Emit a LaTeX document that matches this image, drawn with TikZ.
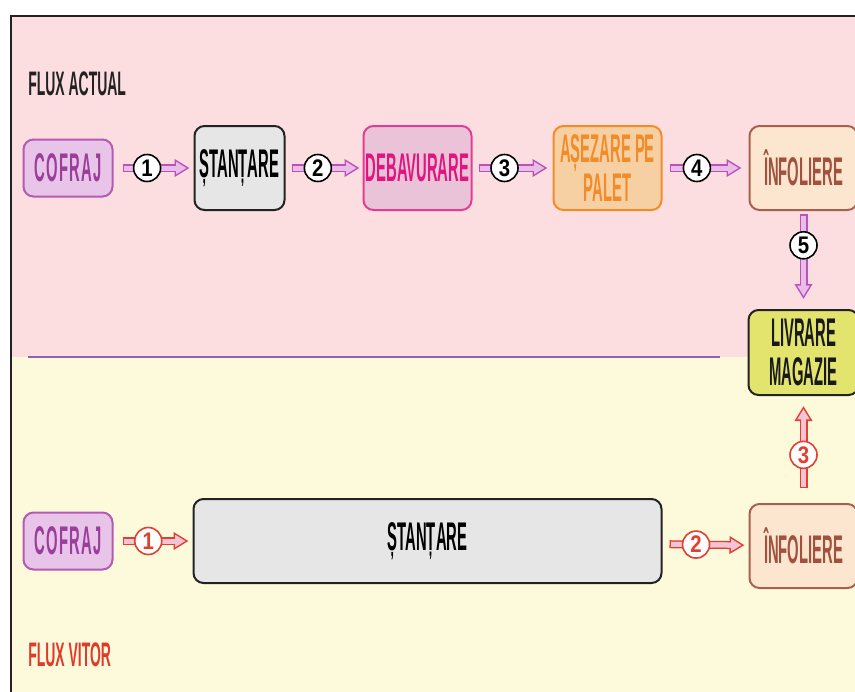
\documentclass[tikz,border=0pt]{standalone}
\usepackage{fontspec}
\usetikzlibrary{arrows.meta, positioning}
\newfontfamily\condfont{Liberation Sans}[FakeStretch=0.37]
\newfontfamily\spacedfont{Liberation Sans}[FakeStretch=0.37, LetterSpace=3]
\newfontfamily\fluxfont{Liberation Sans}[FakeStretch=0.41]
\newfontfamily\numfont{Liberation Sans}[FakeStretch=0.85]
\definecolor{bgpink}{HTML}{FDDEE0}
\definecolor{bgyellow}{HTML}{FDFADC}
\definecolor{framegray}{HTML}{222222}
\definecolor{divider}{HTML}{8A64B0}
\definecolor{arrowline}{HTML}{BE50BE}
\definecolor{arrowfill}{HTML}{E8BEE6}
\definecolor{redline}{HTML}{E2402E}
\definecolor{redfill}{HTML}{F2C4D6}
\definecolor{rawfill}{HTML}{E8C4E8}
\definecolor{rawline}{HTML}{B45AB4}
\definecolor{rawtext}{HTML}{9B3D9B}
\definecolor{pressfill}{HTML}{E6E6E6}
\definecolor{burrfill}{HTML}{EBC3D9}
\definecolor{burrline}{HTML}{E33C96}
\definecolor{burrtext}{HTML}{E0157F}
\definecolor{palletfill}{HTML}{F6CFA2}
\definecolor{palletline}{HTML}{F28C28}
\definecolor{wrapfill}{HTML}{FDE6CF}
\definecolor{wrapline}{HTML}{A8604E}
\definecolor{wraptext}{HTML}{A2513F}
\definecolor{shipfill}{HTML}{E2E46E}
\definecolor{fluxred}{HTML}{E03A2A}

\begin{document}
\begin{tikzpicture}[
        x=0.5pt, y=-0.5pt,
        box/.style = {rectangle, rounded corners=5pt, line width=1pt, align=center, inner sep=1pt, font=\condfont\bfseries\fontsize{20}{18}\selectfont},
        rawbox/.style = {box, fill=rawfill, draw=rawline, text=rawtext, minimum width=44.5pt, minimum height=28.5pt, font=\spacedfont\bfseries\fontsize{20}{18}\selectfont},
        pressbox/.style = {box, fill=pressfill, draw=framegray, text=black, minimum width=45pt, minimum height=42pt},
        burrbox/.style = {box, fill=burrfill, draw=burrline, text=burrtext, minimum width=54pt, minimum height=42pt},
        palletbox/.style = {box, fill=palletfill, draw=palletline, text=palletline, minimum width=54pt, minimum height=42pt},
        wrapbox/.style = {box, fill=wrapfill, draw=wrapline, text=wraptext, minimum width=54pt, minimum height=42pt},
        shipbox/.style = {box, fill=shipfill, draw=framegray, text=black!90, minimum width=55pt, minimum height=42.5pt, font=\condfont\bfseries\fontsize{20}{19.5}\selectfont},
        fluxlabel/.style = {inner sep=0pt, anchor=west, font=\fluxfont\bfseries\fontsize{17}{17}\selectfont},
        badge/.style = {circle, draw=#1, text=#1, fill=white, line width=0.8pt, minimum size=13.5pt, inner sep=0pt, font=\numfont\bfseries\fontsize{12}{12}\selectfont},
        fatout/.style = {line width=4pt, draw=#1, -{Triangle[length=7.5pt, width=8.5pt]}},
        fatin/.style = {line width=2.5pt, draw=#1}
    ]

        \useasboundingbox (0,0) rectangle (855,691);
        \clip (0,0) rectangle (855,691);

        % Background
        \fill [bgpink] (11,16) rectangle (880,357);
        \fill [bgyellow] (11,357) rectangle (880,710);
        \draw [framegray, line width=1.1pt] (11,16) rectangle (880,710);
        \draw [divider, line width=1pt] (28,356.5) -- (720,356.5);

        % Labels
        \node (fluxA) [fluxlabel, text=framegray] at (28,84) {FLUX ACTUAL};
        \node (fluxB) [fluxlabel, text=fluxred] at (28,655) {FLUX VITOR};

        % Current flow
        \node (cofrajA) [rawbox] at (68,168) {COFRAJ};
        \node (stantareA) [pressbox, right=40pt of cofrajA] {ȘTANȚARE};
        \node (debav) [burrbox, right=38.5pt of stantareA] {DEBAVURARE};
        \node (palet) [palletbox, right=40pt of debav] {AȘEZARE PE\\PALET};
        \node (infolA) [wrapbox, right=43pt of palet] {ÎNFOLIERE};
        \node (livrare) [shipbox, below=49pt of infolA] {LIVRARE\\MAGAZIE};

        % Future flow
        \node (infolB) [wrapbox, below=53.5pt of livrare] {ÎNFOLIERE};
        \node (cofrajB) [rawbox] at (68,541) {COFRAJ};
        \node (stantareB) [pressbox, minimum width=234pt, right=39.5pt of cofrajB] {ȘTANȚARE};

        % Arrows
        \foreach \a/\b/\n/\p/\s/\e in {cofrajA/stantareA/1/0.42/4.5pt/2pt, stantareA/debav/2/0.42/3pt/1.5pt, debav/palet/3/0.4/3pt/2.5pt, palet/infolA/4/0.4/3.5pt/3.5pt, infolA/livrare/5/0.35/1.5pt/5pt} {
            \draw [fatout=arrowline, shorten <=\s, shorten >=\e] (\a) -- (\b);
            \draw [fatin=arrowfill, shorten <=\s+0.75pt, shorten >=\e+1.5pt, -{Triangle[length=5.2pt, width=5.9pt]}] (\a) -- (\b);
            \draw [fatin=arrowfill, shorten <=\s+0.75pt, shorten >=\e+5.5pt] (\a) -- node[badge=black, pos=\p] {\n} (\b);
        }
        \foreach \a/\b/\n/\p/\s/\e in {cofrajB/stantareB/1/0.44/4.5pt/2pt, stantareB/infolB/2/0.39/3.5pt/2pt, infolB/livrare/3/0.45/7.5pt/5pt} {
            \draw [fatout=redline, shorten <=\s, shorten >=\e] (\a) -- (\b);
            \draw [fatin=redfill, shorten <=\s+0.75pt, shorten >=\e+1.5pt, -{Triangle[length=5.2pt, width=5.9pt]}] (\a) -- (\b);
            \draw [fatin=redfill, shorten <=\s+0.75pt, shorten >=\e+5.5pt] (\a) -- node[badge=redline, pos=\p] {\n} (\b);
        }

    \end{tikzpicture}
\end{document}
